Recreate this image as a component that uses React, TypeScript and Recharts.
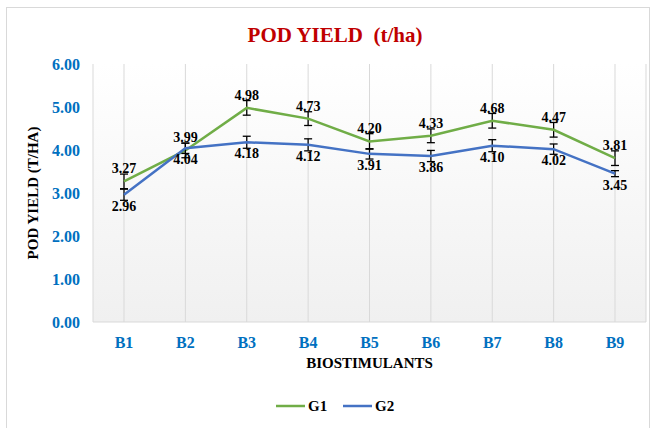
import {
  CartesianGrid,
  ErrorBar,
  LabelList,
  Line,
  LineChart,
  XAxis,
  YAxis
} from "recharts";

const categories = ["B1", "B2", "B3", "B4", "B5", "B6", "B7", "B8", "B9"];
const g1Values = [3.27, 3.99, 4.98, 4.73, 4.2, 4.33, 4.68, 4.47, 3.81];
const g2Values = [2.96, 4.04, 4.18, 4.12, 3.91, 3.86, 4.1, 4.02, 3.45];
const g1Errors = [0.17, 0.17, 0.17, 0.16, 0.18, 0.16, 0.17, 0.17, 0.17];
const g2Errors = [0.13, 0.12, 0.14, 0.14, 0.12, 0.13, 0.14, 0.12, 0.07];
const yTicks = [0, 1, 2, 3, 4, 5, 6];
const seriesNames = ["G1", "G2"];

const GREEN = "#70ad47";
const BLUE = "#4472c4";
const TICK_BLUE = "#0070c0";
const FONT = "'Liberation Serif', 'Times New Roman', serif";

const chartData = categories.map((name, i) => ({
  name,
  g1: g1Values[i],
  g2: g2Values[i],
  g1Err: g1Errors[i],
  g2Err: g2Errors[i]
}));

const fmt = (v: unknown) => Number(v).toFixed(2);

export default function App(): JSX.Element {
  const legendItems = [
    { label: seriesNames[0], color: GREEN, x: 276 },
    { label: seriesNames[1], color: BLUE, x: 343 }
  ];

  return (
    <div style={{ position: "absolute", left: 0, top: 0, width: 657, height: 428, background: "#fff" }}>
      <div
        style={{
          position: "absolute",
          left: 6,
          top: 7,
          width: 644,
          height: 430,
          border: "1px solid #d9d9d9",
          boxSizing: "border-box"
        }}
      />
      <LineChart
        width={657}
        height={428}
        data={chartData}
        margin={{ top: 64, right: 11, bottom: 46, left: 0 }}
        style={{ position: "absolute", left: 0, top: 0, fontFamily: FONT }}
      >
        <defs>
          <linearGradient id="plotBg" x1="0" y1="0" x2="0" y2="1">
            <stop offset="0%" stopColor="#ffffff" />
            <stop offset="100%" stopColor="#f0f0f0" />
          </linearGradient>
        </defs>

        <text
          x={335}
          y={42}
          textAnchor="middle"
          fill="#c00000"
          fontFamily={FONT}
          fontWeight="bold"
          fontSize={21}
          style={{ whiteSpace: "pre" }}
        >
          {"POD YIELD\u00a0\u00a0(t/ha)"}
        </text>

        <CartesianGrid horizontal={false} stroke="#d9d9d9" fill="url(#plotBg)" />

        <XAxis
          dataKey="name"
          height={60}
          padding={{ left: 31, right: 31 }}
          tickSize={0}
          tickMargin={15}
          axisLine={{ stroke: "#d9d9d9" }}
          tick={{ fill: TICK_BLUE, fontSize: 16, fontWeight: "bold", fontFamily: FONT }}
          label={{
            value: "BIOSTIMULANTS",
            position: "insideBottom",
            offset: 14,
            fill: "#000",
            fontSize: 15,
            fontWeight: "bold",
            fontFamily: FONT
          }}
        />

        <YAxis
          width={93}
          domain={[0, 6]}
          ticks={yTicks}
          tickFormatter={fmt}
          tickSize={0}
          tickMargin={13}
          axisLine={false}
          tick={{ fill: TICK_BLUE, fontSize: 16, fontWeight: "bold", fontFamily: FONT }}
          label={{
            value: "POD YIELD (T/HA)",
            angle: -90,
            position: "insideLeft",
            offset: 33,
            fill: "#000",
            fontSize: 15,
            fontWeight: "bold",
            fontFamily: FONT,
            style: { textAnchor: "middle" }
          }}
        />

        <Line
          type="linear"
          dataKey="g1"
          name={seriesNames[0]}
          stroke={GREEN}
          strokeWidth={2.5}
          dot={false}
          activeDot={false}
          isAnimationActive={false}
        >
          <ErrorBar dataKey="g1Err" width={4} stroke="#000" strokeWidth={1.3} direction="y" />
          <LabelList
            dataKey="g1"
            position="top"
            offset={8}
            formatter={fmt}
            fill="#000"
            fontSize={14}
            fontWeight="bold"
            fontFamily={FONT}
          />
        </Line>

        <Line
          type="linear"
          dataKey="g2"
          name={seriesNames[1]}
          stroke={BLUE}
          strokeWidth={2.5}
          dot={false}
          activeDot={false}
          isAnimationActive={false}
        >
          <ErrorBar dataKey="g2Err" width={4} stroke="#000" strokeWidth={1.3} direction="y" />
          <LabelList
            dataKey="g2"
            position="bottom"
            offset={6}
            formatter={fmt}
            fill="#000"
            fontSize={14}
            fontWeight="bold"
            fontFamily={FONT}
          />
        </Line>

        {legendItems.map((item) => (
          <g key={item.label}>
            <line x1={item.x} y1={406} x2={item.x + 29} y2={406} stroke={item.color} strokeWidth={2.5} />
            <text
              x={item.x + 32}
              y={411}
              fill="#000"
              fontFamily={FONT}
              fontWeight="bold"
              fontSize={15}
            >
              {item.label}
            </text>
          </g>
        ))}
      </LineChart>
    </div>
  );
}
